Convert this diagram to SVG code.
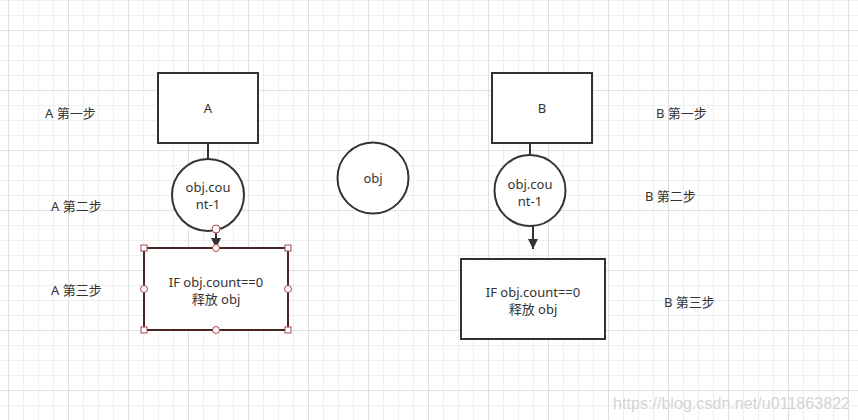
<svg xmlns="http://www.w3.org/2000/svg" width="858" height="420" viewBox="0 0 858 420">
<defs>
<pattern id="minor" x="8" y="0" width="15" height="15" patternUnits="userSpaceOnUse">
<path d="M0.5 0V15M0 0.5H15" stroke="#efefef" stroke-width="1" fill="none"/>
</pattern>
<pattern id="major" x="8" y="30" width="60" height="60" patternUnits="userSpaceOnUse">
<path d="M0.5 0V60M0 0.5H60" stroke="#e0e0e0" stroke-width="1" fill="none"/>
</pattern>
<marker id="arr" viewBox="0 0 10 10" refX="10" refY="5" markerWidth="10" markerHeight="10" markerUnits="userSpaceOnUse" orient="auto">
<path d="M0 0L10 5L0 10Z" fill="#333"/>
</marker>
</defs>
<style>
.shape{fill:#fff;stroke:#333;stroke-width:2}
.sel{fill:#fff;stroke:#4a2525;stroke-width:2}
.h{fill:#fff;stroke:#a84848;stroke-width:1}
.t{font-family:"Noto Sans","Noto Sans CJK SC",sans-serif;font-size:13px;fill:#333;text-anchor:middle;dominant-baseline:central}
.lbl{font-family:"Noto Sans","Noto Sans CJK SC",sans-serif;font-size:13px;fill:#333;dominant-baseline:central}
.edge{stroke:#333;stroke-width:2;fill:none}
</style>
<rect width="858" height="420" fill="#fff"/>
<rect width="858" height="420" fill="url(#minor)"/>
<rect width="858" height="420" fill="url(#major)"/>

<g id="connectors">
<line class="edge" x1="208" y1="143" x2="208" y2="160"/>
<line class="edge" x1="216" y1="229" x2="216" y2="248" marker-end="url(#arr)"/>
<line class="edge" x1="530" y1="143" x2="530" y2="155"/>
<line class="edge" x1="533" y1="226" x2="533" y2="249" marker-end="url(#arr)"/>
</g>

<g id="nodeA">
<rect class="shape" x="158" y="73" width="100" height="70"/>
<text class="t" x="208" y="108">A</text>
</g>
<g id="countA">
<ellipse class="shape" cx="208" cy="195" rx="36" ry="36"/>
<text class="t" x="208" y="187">obj.cou</text>
<text class="t" x="208" y="204">nt-1</text>
</g>
<g id="releaseA">
<rect class="sel" x="144" y="248" width="144" height="82"/>
<text class="t" x="216" y="282">IF obj.count==0</text>
<text class="t" x="216" y="299">释放 obj</text>
<rect class="h" x="141" y="245" width="6" height="6"/>
<rect class="h" x="285" y="245" width="6" height="6"/>
<rect class="h" x="141" y="327" width="6" height="6"/>
<rect class="h" x="285" y="327" width="6" height="6"/>
<circle class="h" cx="216" cy="248" r="3.5"/>
<circle class="h" cx="216" cy="330" r="3.5"/>
<circle class="h" cx="144" cy="289" r="3.5"/>
<circle class="h" cx="288" cy="289" r="3.5"/>
<circle class="h" cx="216" cy="229" r="4"/>
</g>
<g id="obj">
<circle class="shape" cx="373" cy="178" r="35.5"/>
<text class="t" x="373" y="178">obj</text>
</g>
<g id="nodeB">
<rect class="shape" x="492" y="73" width="100" height="70"/>
<text class="t" x="542" y="108">B</text>
</g>
<g id="countB">
<ellipse class="shape" cx="530" cy="190.5" rx="35.5" ry="35.5"/>
<text class="t" x="530" y="183.5">obj.cou</text>
<text class="t" x="530" y="200.5">nt-1</text>
</g>
<g id="releaseB">
<rect class="shape" x="461" y="259" width="144" height="80"/>
<text class="t" x="533" y="292">IF obj.count==0</text>
<text class="t" x="533" y="309">释放 obj</text>
</g>

<g id="labels">
<text class="lbl" x="45" y="113">A 第一步</text>
<text class="lbl" x="51" y="206">A 第二步</text>
<text class="lbl" x="51" y="290">A 第三步</text>
<text class="lbl" x="656" y="113">B 第一步</text>
<text class="lbl" x="645" y="196">B 第二步</text>
<text class="lbl" x="664" y="302">B 第三步</text>
</g>
<text x="613" y="409" font-family="'Liberation Sans',Arial,sans-serif" font-size="16" fill="#d4d4d4" textLength="237">https://blog.csdn.net/u011863822</text>
</svg>
